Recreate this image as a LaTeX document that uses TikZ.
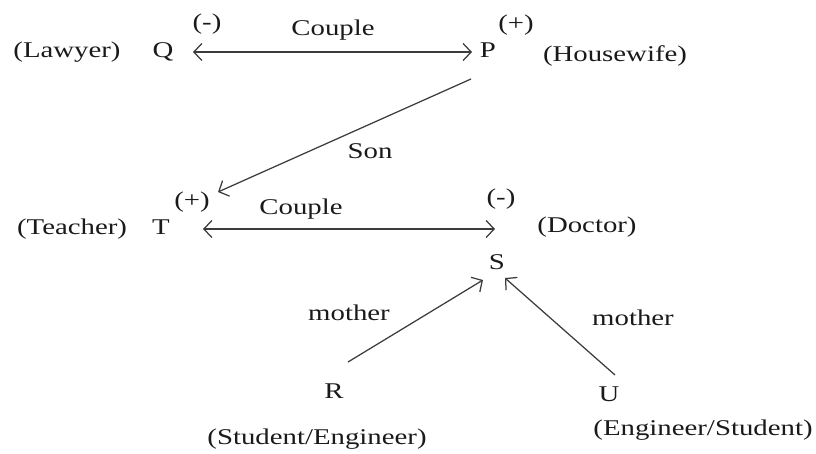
\documentclass[tikz,border=0pt]{standalone}
\usepackage{fontspec}
\setmainfont{Liberation Serif}[FakeStretch=1.28]
\usetikzlibrary{arrows.meta}
\definecolor{txt}{HTML}{1A1A1A}
\definecolor{ln}{HTML}{3C3C3C}
\tikzset{
  lbl/.style={inner sep=0pt, text height=14.9pt, text depth=0pt, anchor=center,
    text=txt, font=\fontsize{22.5}{27}\selectfont},
  arr/.style={draw=ln, line width=1.25pt, -{Straight Barb[length=8pt,width=17pt]}},
  biarr/.style={draw=ln, line width=1.25pt, {Straight Barb[length=8pt,width=17pt]}-{Straight Barb[length=8pt,width=17pt]}}
}
\begin{document}
\begin{tikzpicture}[x=1pt,y=1pt]
\useasboundingbox (0,0) rectangle (816,453);
% top row
\node[lbl] (lawyer) at (67,403) {(Lawyer)};
\node[lbl] (Q) at (163,403) {Q};
\node[lbl] (minusQ) at (207,431) {(-)};
\node[lbl] (couple1) at (333,425) {Couple};
\node[lbl] (P) at (488,403) {P};
\node[lbl] (plusP) at (516,430) {(+)};
\node[lbl] (housewife) at (615,399) {(Housewife)};
\node[lbl] (son) at (370,302) {Son};
% middle row
\node[lbl] (teacher) at (72,226) {(Teacher)};
\node[lbl] (T) at (161,226) {T};
\node[lbl] (plusT) at (192,253) {(+)};
\node[lbl] (couple2) at (301,246) {Couple};
\node[lbl] (minusS) at (501,256) {(-)};
\node[lbl] (doctor) at (587,228) {(Doctor)};
\node[lbl] (S) at (497,191) {S};
% bottom
\node[lbl] (mother1) at (349,140) {mother};
\node[lbl] (mother2) at (633,135) {mother};
\node[lbl] (R) at (334,62) {R};
\node[lbl] (studeng) at (317,16) {(Student/Engineer)};
\node[lbl] (U) at (609,59) {U};
\node[lbl] (engstud) at (703,25) {(Engineer/Student)};
% connectors
\draw[biarr] ([shift={(30,-2)}]Q.center) -- ([shift={(-16,-2)}]P.center);
\draw[arr] ([shift={(-17,-29)}]P.center) -- ([shift={(57,35)}]T.center);
\draw[biarr] ([shift={(42,-2)}]T.center) -- ([shift={(-2,33)}]S.center);
\draw[arr] ([shift={(14,29)}]R.center) -- ([shift={(-14,-18)}]S.center);
\draw[arr] ([shift={(6,19)}]U.center) -- ([shift={(8,-16)}]S.center);
\end{tikzpicture}
\end{document}
